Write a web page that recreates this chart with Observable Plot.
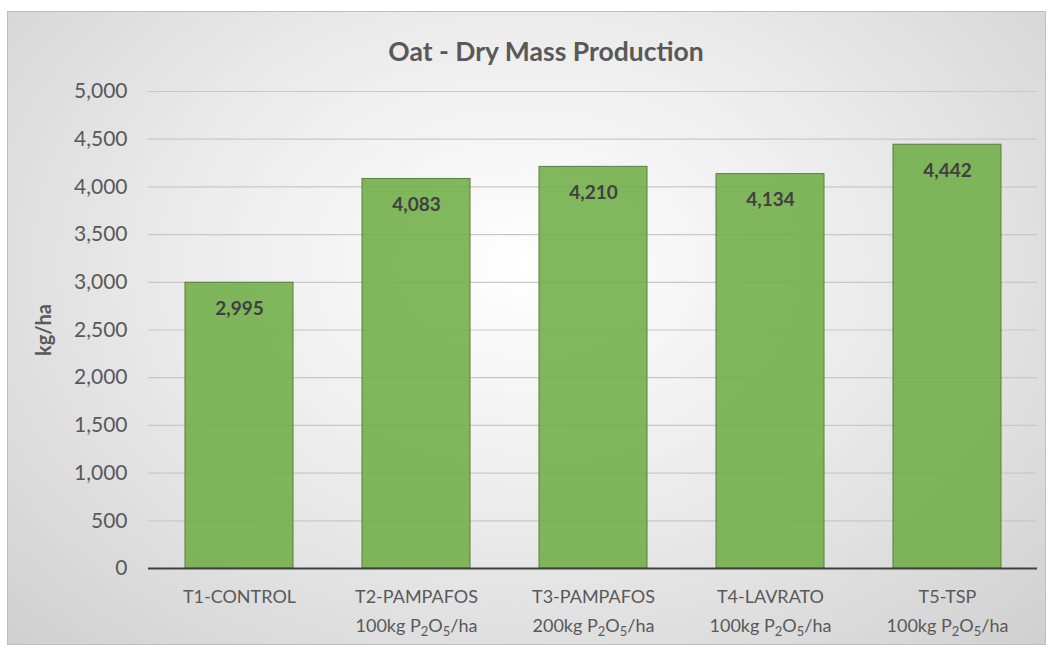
<!DOCTYPE html>
<html>
<head>
<meta charset="utf-8">
<script src="https://cdn.jsdelivr.net/npm/d3@7"></script>
<script src="https://cdn.jsdelivr.net/npm/@observablehq/plot@0.6"></script>
<style>
  html, body { margin: 0; padding: 0; background: #ffffff; }
  #wrap { position: relative; width: 1051px; height: 651px; overflow: hidden; font-family: Lato, "Open Sans", sans-serif; }
  #frame { position: absolute; left: 7px; top: 11px; width: 1039px; height: 634px; border: 1px solid #bfbfbf;
    background: radial-gradient(ellipse at 50% 40%, #ffffff 0%, #ececec 45%, #d0d0d0 100%); box-sizing: border-box; }
  #title { position: absolute; left: 0; width: 1092px; top: 36px; text-align: center; font-size: 26.5px; font-weight: bold; color: #595959; line-height: 1.2; }
  #chart { position: absolute; left: 0; top: 0; }
  #chart svg { background: transparent !important; }
  g[aria-label="y-axis label"] text { font-weight: bold; }
</style>
</head>
<body>
<div id="wrap">
  <div id="frame"></div>
  <div id="title">Oat - Dry Mass Production</div>
  <div id="chart"></div>
</div>
<script>
const categories = [
  "T1-CONTROL",
  "T2-PAMPAFOS\n100kg P₂O₅/ha",
  "T3-PAMPAFOS\n200kg P₂O₅/ha",
  "T4-LAVRATO\n100kg P₂O₅/ha",
  "T5-TSP\n100kg P₂O₅/ha"
];
const values = [2995, 4083, 4210, 4134, 4442];
const yTicks = [0, 500, 1000, 1500, 2000, 2500, 3000, 3500, 4000, 4500, 5000];

const data = categories.map((c, i) => ({category: c, value: values[i]}));
const fmt = d3.format(",");

const chart = Plot.plot({
  width: 1051,
  height: 651,
  marginTop: 91,
  marginBottom: 83,
  marginLeft: 148,
  marginRight: 14,
  style: {background: "transparent", fontFamily: "Lato, 'Open Sans', sans-serif", color: "#595959"},
  x: {domain: categories, paddingInner: 0.39, paddingOuter: 0.195},
  y: {domain: [0, 5000]},
  marks: [
    Plot.gridY(yTicks, {stroke: "#c8c8c8", strokeOpacity: 1, strokeWidth: 1.2}),
    Plot.barY(data, {x: "category", y: "value", fill: "#70ad47", fillOpacity: 0.88, stroke: "#587f3d", strokeWidth: 1}),
    Plot.text(data, {x: "category", y: "value", text: d => fmt(d.value), dy: 26, fontSize: 19, fontWeight: "bold", fill: "#404040"}),
    Plot.ruleY([0], {stroke: "#404040", strokeWidth: 2}),
    Plot.axisY({ticks: yTicks, tickFormat: fmt, tickSize: 0, tickPadding: 21, fontSize: 21, fill: "#595959",
      label: "kg/ha", labelAnchor: "center", labelOffset: 112, labelArrow: "none"}),
    Plot.axisX({tickSize: 0, tickPadding: 15, fontSize: 18, fill: "#595959", label: null, lineHeight: 1.56})
  ]
});
document.getElementById("chart").appendChild(chart);
d3.select(chart).selectAll('g[aria-label="y-axis label"] text').attr("font-size", 20);

// render the Unicode subscripts as real lowered, smaller digits
const subMap = {"₂": "2", "₅": "5"};
d3.select(chart).selectAll('g[aria-label="x-axis tick label"] tspan').each(function() {
  const t = this.textContent;
  if (!/[₂₅]/.test(t)) return;
  const parts = t.split(/([₂₅])/).filter(s => s.length);
  this.textContent = "";
  const sel = d3.select(this);
  let shift = 0;
  parts.forEach(p => {
    if (subMap[p]) {
      sel.append("tspan").attr("font-size", 13).attr("dy", 4 - shift).text(subMap[p]);
      shift = 4;
    } else {
      const s = sel.append("tspan").text(p);
      if (shift) s.attr("dy", -shift);
      shift = 0;
    }
  });
});
</script>
</body>
</html>
